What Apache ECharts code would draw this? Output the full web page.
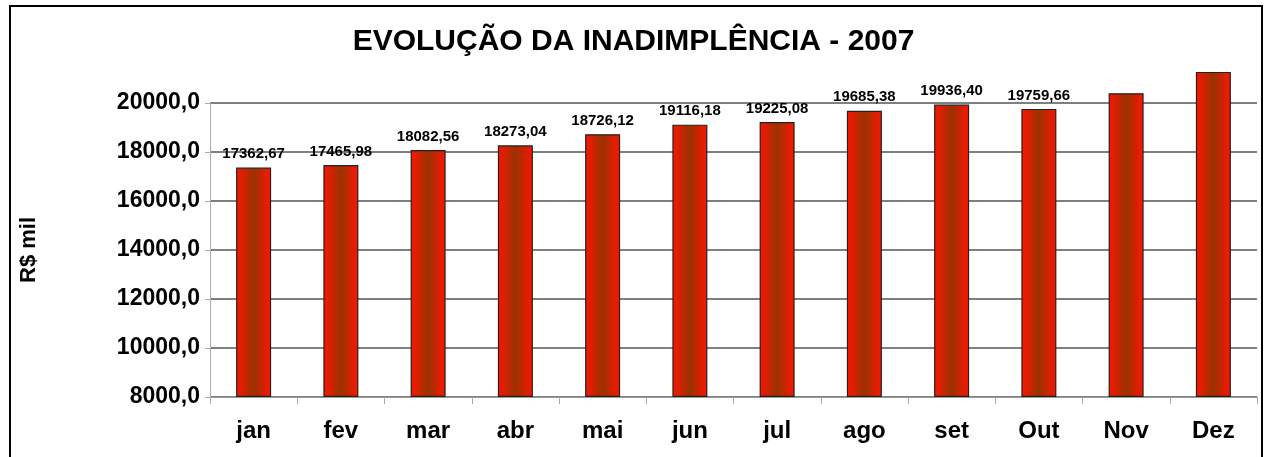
<!DOCTYPE html>
<html><head><meta charset="utf-8">
<script src="https://cdn.jsdelivr.net/npm/echarts@6/dist/echarts.min.js"></script>
<style>html,body{margin:0;padding:0;background:#fff}#c{width:1267px;height:457px}</style>
</head><body><div id="c"></div>
<script>
var titleText = 'EVOLUÇÃO DA INADIMPLÊNCIA - 2007';
var yAxisName = 'R$ mil';
var categories = ['jan','fev','mar','abr','mai','jun','jul','ago','set','Out','Nov','Dez'];
var values = [17362.67, 17465.98, 18082.56, 18273.04, 18726.12, 19116.18, 19225.08, 19685.38, 19936.40, 19759.66, 20400, 21270];
var labelled = [true,true,true,true,true,true,true,true,true,true,false,false];
var axisMin = 8000, axisMax = 20000, axisStep = 2000;

var chart = echarts.init(document.getElementById('c'));
var grad = new echarts.graphic.LinearGradient(0,0,1,0,[
  {offset:0,color:'#ff1400'},{offset:0.5,color:'#993300'},{offset:1,color:'#ff1400'}]);
var font = 'Liberation Sans, Arial';
chart.setOption({
  animation:false,
  title:{text:titleText,left:'center',top:22,textStyle:{fontFamily:font,fontWeight:'bold',fontSize:30,color:'#000'}},
  graphic:[{type:'rect',shape:{x:10,y:6,width:1252,height:470},style:{fill:'none',stroke:'#000',lineWidth:2},silent:true}],
  grid:{left:210,right:10,top:103,bottom:60},
  xAxis:{type:'category',data:categories,
    axisLine:{lineStyle:{color:'#999',width:1}},
    axisTick:{show:true,length:7,lineStyle:{color:'#aaa'}},
    axisLabel:{margin:22,fontFamily:font,fontWeight:'bold',fontSize:24,color:'#000'}},
  yAxis:{type:'value',min:axisMin,max:axisMax,interval:axisStep,
    name:yAxisName,nameLocation:'middle',nameGap:170,nameRotate:90,
    nameTextStyle:{fontFamily:font,fontWeight:'bold',fontSize:22,color:'#000'},
    axisLine:{show:true,lineStyle:{color:'#aaa'}},
    axisTick:{show:true,length:5,lineStyle:{color:'#aaa'}},
    splitLine:{lineStyle:{color:'#555',width:1.5}},
    axisLabel:{margin:10,fontFamily:font,fontWeight:'bold',fontSize:23,color:'#000',
      formatter:function(v){return v.toFixed(1).replace('.',',');}}},
  series:[
    {type:'bar',stack:'s',data:categories.map(function(){return axisMin;}),barWidth:35,clip:false,
      itemStyle:{color:'rgba(0,0,0,0)'},silent:true,label:{show:false}},
    {type:'bar',stack:'s',data:values.map(function(v){return v-axisMin;}),barWidth:35,clip:false,
    itemStyle:{color:grad,borderColor:'#222',borderWidth:1.2},
    label:{show:true,position:'top',distance:6,fontFamily:font,fontWeight:'bold',fontSize:15,color:'#000',
      formatter:function(p){var i=p.dataIndex;return labelled[i]?values[i].toFixed(2).replace('.',','):'';}}
  },{type:'line',data:[],markLine:{silent:true,symbol:'none',label:{show:false},lineStyle:{color:'#444',width:2,type:'solid'},
    data:[[{xAxis:11.5,yAxis:axisMin},{xAxis:11.5,yAxis:axisMax}]]}}]
});
</script></body></html>
